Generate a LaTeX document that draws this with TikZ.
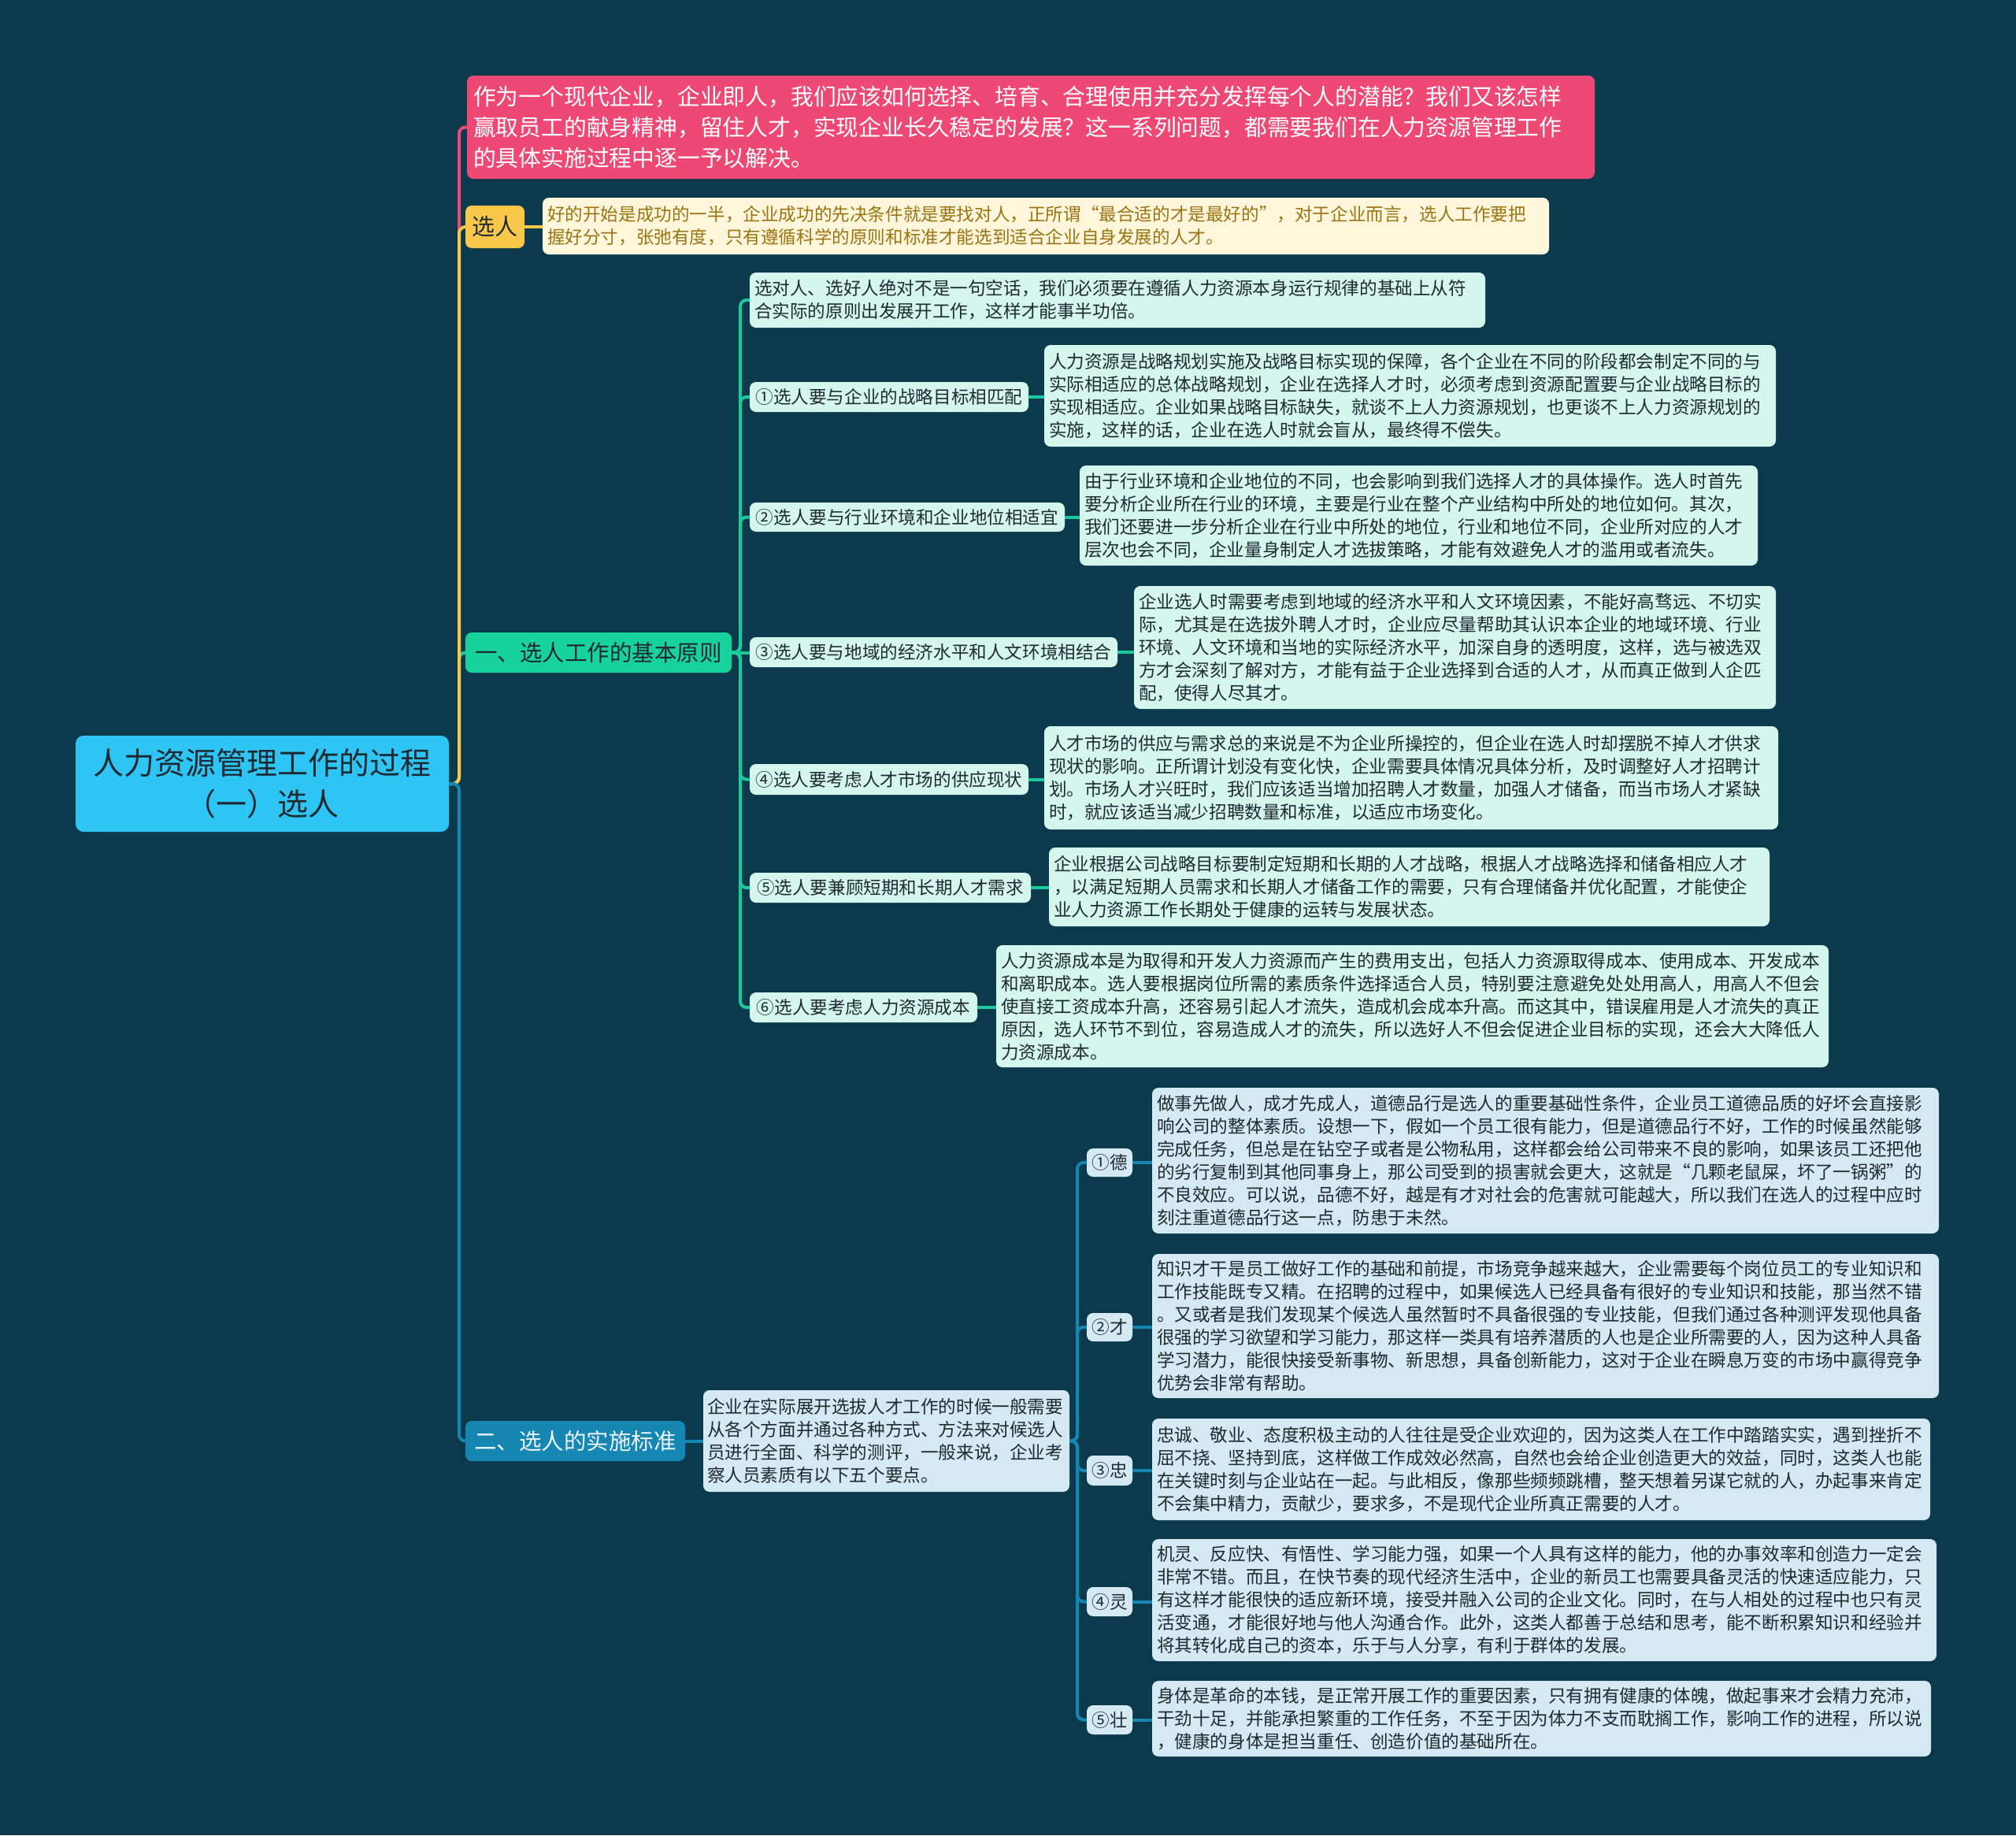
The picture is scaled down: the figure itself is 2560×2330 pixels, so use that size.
\documentclass[tikz,border=0pt]{standalone}
\usepackage{fontspec}
\setmainfont{Noto Sans CJK SC}
\definecolor{bgc}{HTML}{0A3A4C}
\definecolor{rootc}{HTML}{2EC4F4}
\definecolor{redc}{HTML}{EE4874}
\definecolor{yelc}{HTML}{F9C84A}
\definecolor{creamc}{HTML}{FFF6DB}
\definecolor{creamtxt}{HTML}{9A7412}
\definecolor{grnc}{HTML}{18D29C}
\definecolor{grnline}{HTML}{1DC99B}
\definecolor{mintc}{HTML}{D4F6EC}
\definecolor{bluec}{HTML}{1687B3}
\definecolor{paleblue}{HTML}{D5E9F2}
\definecolor{darktxt}{HTML}{1E2A30}
\tikzset{
  base/.style={anchor=north west, rounded corners=8pt, inner xsep=6pt, inner ysep=0pt, outer sep=0pt},
  detfont/.style={font=\fontsize{22.6}{29}\selectfont},
  mint/.style={base, fill=mintc, text=darktxt, detfont},
  pale/.style={base, fill=paleblue, text=darktxt, detfont},
  det/.style={align=left},
  lab/.style={inner xsep=0pt},
  conn/.style={line width=4pt, rounded corners=8pt},
  rline/.style={conn, draw=redc},
  yline/.style={conn, draw=yelc},
  gline/.style={conn, draw=grnline},
  bline/.style={conn, draw=bluec}
}
\begin{document}
\begin{tikzpicture}[x=1pt,y=-1pt]
\fill[bgc] (0,0) rectangle (2560,2330);
\useasboundingbox (0,0) rectangle (2560,2330);

% root
\node[base, fill=rootc, text=darktxt, font=\fontsize{39}{52}\selectfont, align=center, minimum width=474pt, minimum height=122pt, rounded corners=10pt, inner xsep=0pt] (root) at (96,934) {人力资源管理工作的过程\\（一）选人};

% intro
\node[base, fill=redc, text=white, font=\fontsize{28.8}{39}\selectfont, det, inner xsep=8pt, text width=1416pt, minimum width=1432pt, minimum height=131pt] (intro) at (593,96) {作为一个现代企业，企业即人，我们应该如何选择、培育、合理使用并充分发挥每个人的潜能？我们又该怎样\\赢取员工的献身精神，留住人才，实现企业长久稳定的发展？这一系列问题，都需要我们在人力资源管理工作\\的具体实施过程中逐一予以解决。};

% xuanren
\node[base, fill=yelc, text=darktxt, font=\fontsize{29}{36}\selectfont, lab, minimum width=75pt, minimum height=54pt] (yel) at (591,261) {选人};
\node[base, fill=creamc, text=creamtxt, detfont, det, text width=1266pt, minimum width=1278pt, minimum height=72pt] (ydet) at (689,251) {好的开始是成功的一半，企业成功的先决条件就是要找对人，正所谓“最合适的才是最好的”，对于企业而言，选人工作要把\\握好分寸，张弛有度，只有遵循科学的原则和标准才能选到适合企业自身发展的人才。};

% level 1
\node[base, fill=grnc, text=darktxt, font=\fontsize{28.5}{36}\selectfont, lab, minimum width=338pt, minimum height=51pt] (g1) at (591,803) {一、选人工作的基本原则};
\node[base, fill=bluec, text=white!92!bluec, font=\fontsize{28.5}{36}\selectfont, lab, minimum width=279pt, minimum height=51pt] (b1) at (591,1804) {二、选人的实施标准};

% green children
\node[mint, det, text width=922pt, minimum width=934pt, minimum height=70pt] (c0) at (952,346) {选对人、选好人绝对不是一句空话，我们必须要在遵循人力资源本身运行规律的基础上从符\\合实际的原则出发展开工作，这样才能事半功倍。};

\node[mint, lab, minimum width=354pt, minimum height=38pt] (c1l) at (952,485) {①选人要与企业的战略目标相匹配};
\node[mint, det, text width=917pt, minimum width=929pt, minimum height=129pt] (c1d) at (1326,438) {人力资源是战略规划实施及战略目标实现的保障，各个企业在不同的阶段都会制定不同的与\\实际相适应的总体战略规划，企业在选择人才时，必须考虑到资源配置要与企业战略目标的\\实现相适应。企业如果战略目标缺失，就谈不上人力资源规划，也更谈不上人力资源规划的\\实施，这样的话，企业在选人时就会盲从，最终得不偿失。};

\node[mint, lab, minimum width=400pt, minimum height=37pt] (c2l) at (952,638) {②选人要与行业环境和企业地位相适宜};
\node[mint, det, text width=849pt, minimum width=861pt, minimum height=127pt] (c2d) at (1371,591) {由于行业环境和企业地位的不同，也会影响到我们选择人才的具体操作。选人时首先\\要分析企业所在行业的环境，主要是行业在整个产业结构中所处的地位如何。其次，\\我们还要进一步分析企业在行业中所处的地位，行业和地位不同，企业所对应的人才\\层次也会不同，企业量身制定人才选拔策略，才能有效避免人才的滥用或者流失。};

\node[mint, lab, minimum width=467pt, minimum height=38pt] (c3l) at (952,809) {③选人要与地域的经济水平和人文环境相结合};
\node[mint, det, text width=803pt, minimum width=815pt, minimum height=156pt] (c3d) at (1440,744) {企业选人时需要考虑到地域的经济水平和人文环境因素，不能好高骛远、不切实\\际，尤其是在选拔外聘人才时，企业应尽量帮助其认识本企业的地域环境、行业\\环境、人文环境和当地的实际经济水平，加深自身的透明度，这样，选与被选双\\方才会深刻了解对方，才能有益于企业选择到合适的人才，从而真正做到人企匹\\配，使得人尽其才。};

\node[mint, lab, minimum width=354pt, minimum height=39pt] (c4l) at (952,970) {④选人要考虑人才市场的供应现状};
\node[mint, det, text width=920pt, minimum width=932pt, minimum height=131pt] (c4d) at (1326,922) {人才市场的供应与需求总的来说是不为企业所操控的，但企业在选人时却摆脱不掉人才供求\\现状的影响。正所谓计划没有变化快，企业需要具体情况具体分析，及时调整好人才招聘计\\划。市场人才兴旺时，我们应该适当增加招聘人才数量，加强人才储备，而当市场人才紧缺\\时，就应该适当减少招聘数量和标准，以适应市场变化。};

\node[mint, lab, minimum width=357pt, minimum height=38pt] (c5l) at (952,1108) {⑤选人要兼顾短期和长期人才需求};
\node[mint, det, text width=903pt, minimum width=915pt, minimum height=100pt] (c5d) at (1332,1076) {企业根据公司战略目标要制定短期和长期的人才战略，根据人才战略选择和储备相应人才\\，以满足短期人员需求和长期人才储备工作的需要，只有合理储备并优化配置，才能使企\\业人力资源工作长期处于健康的运转与发展状态。};

\node[mint, lab, minimum width=289pt, minimum height=38pt] (c6l) at (952,1260) {⑥选人要考虑人力资源成本};
\node[mint, det, text width=1045pt, minimum width=1057pt, minimum height=155pt] (c6d) at (1265,1200) {人力资源成本是为取得和开发人力资源而产生的费用支出，包括人力资源取得成本、使用成本、开发成本\\和离职成本。选人要根据岗位所需的素质条件选择适合人员，特别要注意避免处处用高人，用高人不但会\\使直接工资成本升高，还容易引起人才流失，造成机会成本升高。而这其中，错误雇用是人才流失的真正\\原因，选人环节不到位，容易造成人才的流失，所以选好人不但会促进企业目标的实现，还会大大降低人\\力资源成本。};

% blue children
\node[pale, det, inner xsep=5pt, text width=455pt, minimum width=465pt, minimum height=129pt] (bd) at (893,1765) {企业在实际展开选拔人才工作的时候一般需要\\从各个方面并通过各种方式、方法来对候选人\\员进行全面、科学的测评，一般来说，企业考\\察人员素质有以下五个要点。};

\node[pale, lab, minimum width=58pt, minimum height=36pt] (dl1) at (1380,1458) {①德};
\node[pale, det, text width=987pt, minimum width=999pt, minimum height=185pt] (dd1) at (1463,1381) {做事先做人，成才先成人，道德品行是选人的重要基础性条件，企业员工道德品质的好坏会直接影\\响公司的整体素质。设想一下，假如一个员工很有能力，但是道德品行不好，工作的时候虽然能够\\完成任务，但总是在钻空子或者是公物私用，这样都会给公司带来不良的影响，如果该员工还把他\\的劣行复制到其他同事身上，那公司受到的损害就会更大，这就是“几颗老鼠屎，坏了一锅粥”的\\不良效应。可以说，品德不好，越是有才对社会的危害就可能越大，所以我们在选人的过程中应时\\刻注重道德品行这一点，防患于未然。};

\node[pale, lab, minimum width=58pt, minimum height=36pt] (dl2) at (1380,1667) {②才};
\node[pale, det, text width=987pt, minimum width=999pt, minimum height=183pt] (dd2) at (1463,1592) {知识才干是员工做好工作的基础和前提，市场竞争越来越大，企业需要每个岗位员工的专业知识和\\工作技能既专又精。在招聘的过程中，如果候选人已经具备有很好的专业知识和技能，那当然不错\\。又或者是我们发现某个候选人虽然暂时不具备很强的专业技能，但我们通过各种测评发现他具备\\很强的学习欲望和学习能力，那这样一类具有培养潜质的人也是企业所需要的人，因为这种人具备\\学习潜力，能很快接受新事物、新思想，具备创新能力，这对于企业在瞬息万变的市场中赢得竞争\\优势会非常有帮助。};

\node[pale, lab, minimum width=58pt, minimum height=38pt] (dl3) at (1380,1848) {③忠};
\node[pale, det, text width=976pt, minimum width=988pt, minimum height=129pt] (dd3) at (1463,1801) {忠诚、敬业、态度积极主动的人往往是受企业欢迎的，因为这类人在工作中踏踏实实，遇到挫折不\\屈不挠、坚持到底，这样做工作成效必然高，自然也会给企业创造更大的效益，同时，这类人也能\\在关键时刻与企业站在一起。与此相反，像那些频频跳槽，整天想着另谋它就的人，办起事来肯定\\不会集中精力，贡献少，要求多，不是现代企业所真正需要的人才。};

\node[pale, lab, minimum width=58pt, minimum height=37pt] (dl4) at (1380,2015) {④灵};
\node[pale, det, text width=984pt, minimum width=996pt, minimum height=155pt] (dd4) at (1463,1954) {机灵、反应快、有悟性、学习能力强，如果一个人具有这样的能力，他的办事效率和创造力一定会\\非常不错。而且，在快节奏的现代经济生活中，企业的新员工也需要具备灵活的快速适应能力，只\\有这样才能很快的适应新环境，接受并融入公司的企业文化。同时，在与人相处的过程中也只有灵\\活变通，才能很好地与他人沟通合作。此外，这类人都善于总结和思考，能不断积累知识和经验并\\将其转化成自己的资本，乐于与人分享，有利于群体的发展。};

\node[pale, lab, minimum width=58pt, minimum height=37pt] (dl5) at (1380,2165) {⑤壮};
\node[pale, det, text width=977pt, minimum width=989pt, minimum height=96pt] (dd5) at (1463,2134) {身体是革命的本钱，是正常开展工作的重要因素，只有拥有健康的体魄，做起事来才会精力充沛，\\干劲十足，并能承担繁重的工作任务，不至于因为体力不支而耽搁工作，影响工作的进程，所以说\\，健康的身体是担当重任、创造价值的基础所在。};

% trunk connectors
\draw[rline] (root.east) -- ++(13,0) |- (intro.west);
\draw[gline] (root.east) -- ++(13,0) |- (g1.west);
\draw[yline] (root.east) -- ++(13,0) |- (yel.west);
\draw[bline] (root.east) -- ++(13,0) |- (b1.west);
\draw[yline] (yel.east) -- (yel.east -| ydet.west);

% green connectors
\draw[gline] (g1.east) -- ++(11,0) |- (c0.west);
\draw[gline] (g1.east) -- ++(11,0) |- (c1l.west);
\draw[gline] (g1.east) -- ++(11,0) |- (c2l.west);
\draw[gline] (g1.east) -- (g1.east -| c3l.west);
\draw[gline] (g1.east) -- ++(11,0) |- (c4l.west);
\draw[gline] (g1.east) -- ++(11,0) |- (c5l.west);
\draw[gline] (g1.east) -- ++(11,0) |- (c6l.west);
\draw[gline] (c1l.east) -- (c1l.east -| c1d.west);
\draw[gline] (c2l.east) -- (c2l.east -| c2d.west);
\draw[gline] (c3l.east) -- (c3l.east -| c3d.west);
\draw[gline] (c4l.east) -- (c4l.east -| c4d.west);
\draw[gline] (c5l.east) -- (c5l.east -| c5d.west);
\draw[gline] (c6l.east) -- (c6l.east -| c6d.west);

% blue connectors
\draw[bline] (b1.east) -- (b1.east -| bd.west);
\draw[bline] (bd.east) -- ++(10,0) |- (dl1.west);
\draw[bline] (bd.east) -- ++(10,0) |- (dl2.west);
\draw[bline] (bd.east) -- ++(10,0) |- (dl3.west);
\draw[bline] (bd.east) -- ++(10,0) |- (dl4.west);
\draw[bline] (bd.east) -- ++(10,0) |- (dl5.west);
\draw[bline] (dl1.east) -- (dl1.east -| dd1.west);
\draw[bline] (dl2.east) -- (dl2.east -| dd2.west);
\draw[bline] (dl3.east) -- (dl3.east -| dd3.west);
\draw[bline] (dl4.east) -- (dl4.east -| dd4.west);
\draw[bline] (dl5.east) -- (dl5.east -| dd5.west);
\end{tikzpicture}
\end{document}
